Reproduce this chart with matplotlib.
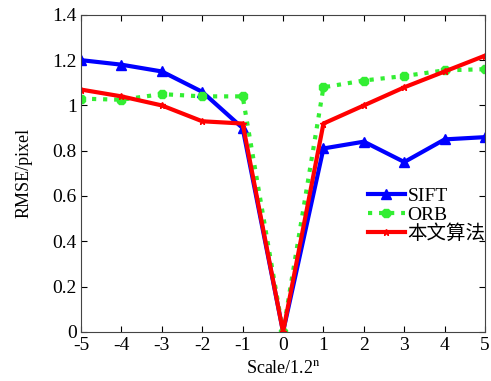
import matplotlib
matplotlib.use("Agg")
import matplotlib.pyplot as plt

scales = [-5, -4, -3, -2, -1, 0, 1, 2, 3, 4, 5]
sift = [1.20, 1.18, 1.15, 1.06, 0.90, 0.0, 0.81, 0.84, 0.75, 0.85, 0.86]
orb = [1.03, 1.025, 1.05, 1.04, 1.04, 0.0, 1.08, 1.11, 1.13, 1.155, 1.16]
ours = [1.07, 1.04, 1.00, 0.93, 0.92, 0.0, 0.92, 1.00, 1.08, 1.15, 1.22]
labels = ["SIFT", "ORB", "本文算法"]
yticks = [0, 0.2, 0.4, 0.6, 0.8, 1, 1.2, 1.4]
ytick_labels = ["0", "0.2", "0.4", "0.6", "0.8", "1", "1.2", "1.4"]

plt.rcParams['font.family'] = ['Liberation Serif', 'Noto Sans CJK SC']
plt.rcParams['mathtext.fontset'] = 'stix'
plt.rcParams['axes.unicode_minus'] = False

fig = plt.figure(figsize=(4.91, 3.81), dpi=100)
ax = fig.add_axes([0.165, 0.129, 0.823, 0.832])

ax.plot(scales, sift, color='#0000ff', lw=3, marker='^', ms=7, label=labels[0])
ax.plot(scales, orb, color='#33ee33', lw=3, ls=':', marker='8', ms=6, label=labels[1])
ax.plot(scales, ours, color='#ff0000', lw=3, marker='*', ms=5, label=labels[2])

ax.set_xlim(-5, 5)
ax.set_ylim(0, 1.4)
ax.set_xticks(scales)
ax.set_yticks(yticks)
ax.set_yticklabels(ytick_labels)
ax.tick_params(direction='in', top=True, right=True, labelsize=14, length=4)
ax.tick_params(axis='x', pad=4)
ax.tick_params(axis='y', pad=3)
for s in ax.spines.values():
    s.set_color('#444444')
ax.set_xlabel('Scale/1.2$^{\\mathrm{n}}$', fontsize=13, labelpad=4)
ax.set_ylabel('RMSE/pixel', fontsize=13, labelpad=14)

ax.legend(loc='upper left', bbox_to_anchor=(0.69, 0.48), frameon=False,
          fontsize=14, handlelength=1.9, handletextpad=0.15, labelspacing=0.05,
          borderaxespad=0)

fig.savefig('out.png', dpi=100)
